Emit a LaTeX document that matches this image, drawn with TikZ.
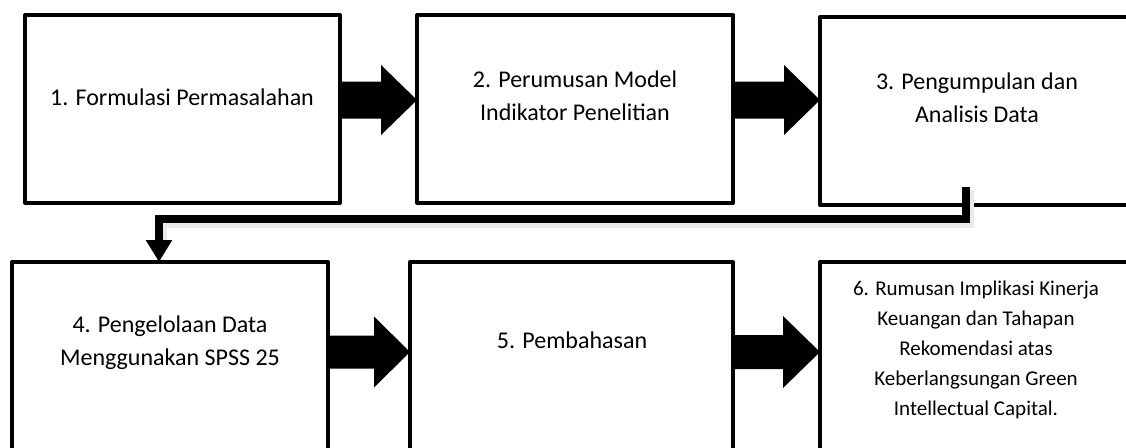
\documentclass[tikz,border=0pt]{standalone}
\usepackage{fontspec}
\setmainfont{Carlito}
\usetikzlibrary{calc,arrows.meta}
\tikzset{
  box/.style={draw=black, line width=4pt, fill=white, rectangle, inner sep=0pt,
    outer sep=0pt, anchor=north west, line join=round},
  lbl/.style={font=\fontsize{24}{33}\selectfont, align=center, anchor=base, inner sep=0pt},
  lblsmall/.style={font=\fontsize{21}{30}\selectfont, align=center, anchor=base, inner sep=0pt},
  conn/.style={line width=8pt, -{Triangle[width=25pt,length=22pt]}},
  connshadow/.style={line width=12pt, black!8},
  blk/.style={fill=black}
}
% #1 from node, #2 to node, #3 y centre, #4 shaft half height, #5 head half height, #6 head length
\newcommand\blkarrow[6]{%
  \fill[blk] (#1.east |- 0,#3-#4)
    -- ($(#2.west |- 0,#3)+(-#6,-#4)$)
    -- ($(#2.west |- 0,#3)+(-#6,-#5)$)
    -- (#2.west |- 0,#3)
    -- ($(#2.west |- 0,#3)+(-#6,#5)$)
    -- ($(#2.west |- 0,#3)+(-#6,#4)$)
    -- (#1.east |- 0,#3+#4) -- cycle;}
\begin{document}
\begin{tikzpicture}[x=1pt,y=-1pt]
\useasboundingbox (0,0) rectangle (1126,447);
\clip (0,0) rectangle (1126,447);
\fill[white] (0,0) rectangle (1126,447);

% boxes
\node[box, minimum width=315pt, minimum height=188pt] (b1) at (25,15) {};
\node[box, minimum width=316pt, minimum height=188pt] (b2) at (417,15) {};
\node[box, minimum width=312pt, minimum height=188pt] (b3) at (820,17) {};
\node[box, minimum width=316pt, minimum height=230pt] (b4) at (12,262) {};
\node[box, minimum width=323pt, minimum height=230pt] (b5) at (410,262) {};
\node[box, minimum width=312pt, minimum height=230pt] (b6) at (820,262) {};

% labels (base anchor = baseline of the last line)
\node[lbl] (t1) at (182,105) {1. Formulasi Permasalahan};
\node[lbl] (t2) at (575,120) {2. Perumusan Model\\Indikator Penelitian};
\node[lbl] (t3) at (977,122) {3. Pengumpulan dan\\Analisis Data};
\node[lbl] (t4) at (170,365) {4. Pengelolaan Data\\Menggunakan SPSS 25};
\node[lbl] (t5) at (572,348) {5. Pembahasan};
\node[lblsmall] (t6) at (976,415) {6. Rumusan Implikasi Kinerja\\Keuangan dan Tahapan\\Rekomendasi atas\\Keberlangsungan Green\\Intellectual Capital.};

% block arrows
\blkarrow{b1}{b2}{100}{18.5}{35}{36}
\blkarrow{b2}{b3}{100}{18.5}{35}{36}
\blkarrow{b4}{b5}{352}{16.5}{35.5}{36}
\blkarrow{b5}{b6}{352}{17}{36}{37}

% elbow connector 3 -> 4
\coordinate (s) at (966,187);
\draw[connshadow] ([shift={(2pt,-3pt)}]s) -- ++(0,32) -| ([shift={(-9pt,19pt)}]b4.north);
\draw[conn] (s) -- ++(0,32) -| ([xshift=-11pt]b4.north);
\end{tikzpicture}
\end{document}
